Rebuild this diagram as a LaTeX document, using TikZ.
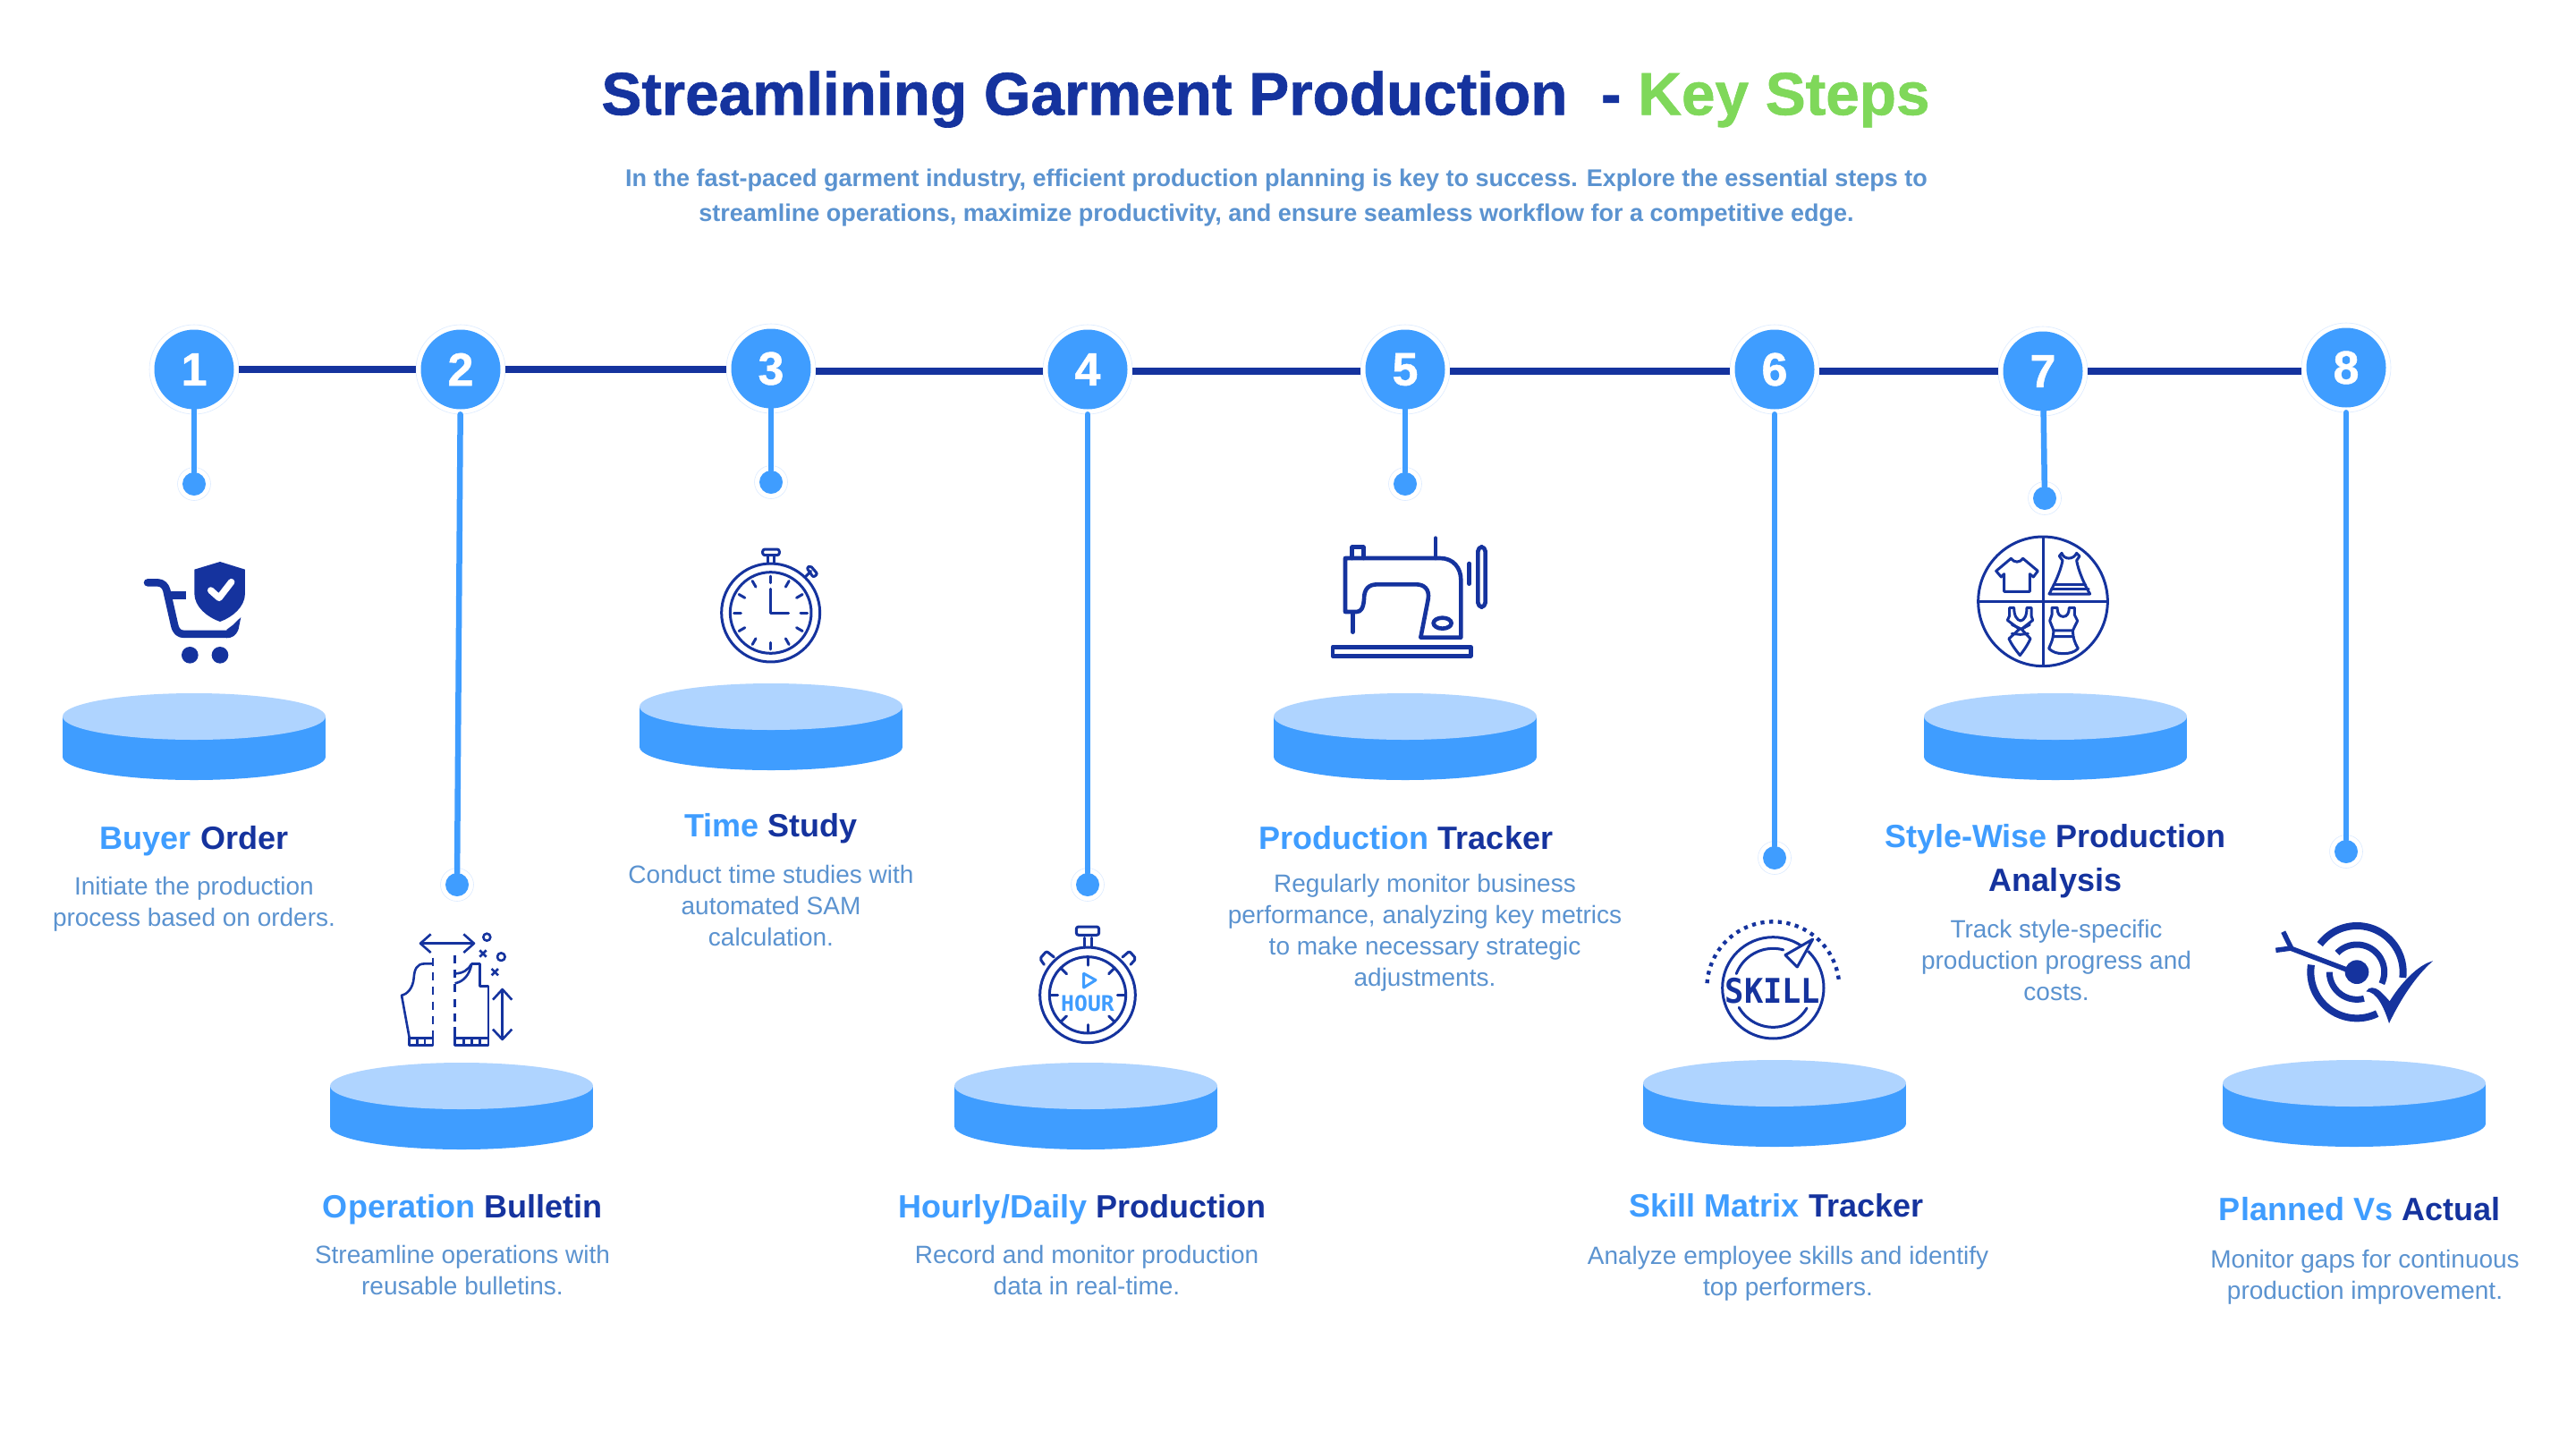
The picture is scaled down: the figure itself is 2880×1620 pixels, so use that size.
\documentclass[tikz,border=0pt]{standalone}
\usepackage{fontspec}
\setmainfont{Liberation Sans}
\newfontfamily\techfont{DejaVu Sans Mono}
\newfontfamily\titlefont[RawFeature={embolden=1}]{Liberation Sans Bold}
\usetikzlibrary{calc}
\definecolor{navy}{HTML}{15339E}
\definecolor{sky}{HTML}{3F9DFF}
\definecolor{pale}{HTML}{AFD4FF}
\definecolor{leaf}{HTML}{7FD85A}
\definecolor{mist}{HTML}{5B93D0}
\definecolor{ringc}{HTML}{DCEBFF}
\newcommand\fs[2]{\fontsize{#1}{#2}\selectfont}
\newcommand\hb[1]{\textcolor{sky}{#1}}
\newcommand\disc[2]{%
  \fill[sky] (#1-147,#2) rectangle (#1+147,#2+45);
  \fill[sky] (#1,#2+45) ellipse [x radius=147,y radius=26];
  \fill[pale] (#1,#2) ellipse [x radius=147,y radius=26];}
\tikzset{
  halo/.style={circle,draw=ringc,line width=.6pt,fill=white,minimum size=100pt,inner sep=0pt},
  num/.style={circle,fill=sky,text=white,minimum size=89pt,inner sep=0pt,font=\titlefont\fs{52}{52}},
  dothalo/.style={circle,draw=ringc,line width=.6pt,fill=white,minimum size=37pt,inner sep=0pt},
  dotn/.style={circle,fill=sky,minimum size=26pt,inner sep=0pt},
  mainline/.style={navy,line width=8pt},
  stem/.style={sky,line width=6.5pt,line cap=round},
  head/.style={align=center,text=navy,font=\bfseries\fs{36}{49}},
  body/.style={align=center,text=mist,font=\fs{28}{35}},
  icon/.style={navy,line width=3pt,line cap=round,line join=round},
}
\begin{document}
\begin{tikzpicture}[x=1pt,y=-1pt]
\useasboundingbox (0,0) rectangle (2880,1620);
\fill[white] (0,0) rectangle (2880,1620);

% title
\node[anchor=center,font=\titlefont\fs{67.5}{72}] (title) at (1415,111)
  {\textcolor{navy}{Streamlining Garment Production\ \ -} \textcolor{leaf}{Key Steps}};
\node[align=center,text=mist,font=\bfseries\fs{27}{39}] (sub) at (1427,221)
  {In the fast-paced garment industry, efficient production planning is key to success. Explore the essential steps to\\
   streamline operations, maximize productivity, and ensure seamless workflow for a competitive edge.};

% halos
\node[halo] (h1) at (217,413) {};
\node[halo] (h2) at (515,413) {};
\node[halo] (h3) at (862,412) {};
\node[halo] (h4) at (1216,413) {};
\node[halo] (h5) at (1571,413) {};
\node[halo] (h6) at (1984,413) {};
\node[halo] (h7) at (2284,415) {};
\node[halo] (h8) at (2623,411) {};
\node[dothalo] (g1) at (217,541) {};
\node[dothalo] (g2) at (511,989) {};
\node[dothalo] (g3) at (862,539) {};
\node[dothalo] (g4) at (1216,989) {};
\node[dothalo] (g5) at (1571,541) {};
\node[dothalo] (g6) at (1984,959) {};
\node[dothalo] (g7) at (2286,557) {};
\node[dothalo] (g8) at (2623,952) {};

\coordinate (ma) at (0,413);
\coordinate (mb) at (0,414.5);
\draw[mainline] (h1.east |- ma)--(h2.west |- ma);
\draw[mainline] (h2.east |- ma)--(h3.west |- ma);
\draw[mainline] (h3.east |- mb)--(h4.west |- mb);
\draw[mainline] (h4.east |- mb)--(h5.west |- mb);
\draw[mainline] (h5.east |- mb)--(h6.west |- mb);
\draw[mainline] (h6.east |- mb)--(h7.west |- mb);
\draw[mainline] (h7.east |- mb)--(h8.west |- mb);

\node[num] (n1) at (h1) {1};
\node[num] (n2) at (h2) {2};
\node[num] (n3) at (h3) {3};
\node[num] (n4) at (h4) {4};
\node[num] (n5) at (h5) {5};
\node[num] (n6) at (h6) {6};
\node[num] (n7) at (h7) {7};
\node[num] (n8) at (h8) {8};
\node[dotn] (d1) at (g1) {};
\node[dotn] (d2) at (g2) {};
\node[dotn] (d3) at (g3) {};
\node[dotn] (d4) at (g4) {};
\node[dotn] (d5) at (g5) {};
\node[dotn] (d6) at (g6) {};
\node[dotn] (d7) at (g7) {};
\node[dotn] (d8) at (g8) {};

\draw[stem] (n1)--(d1);
\draw[stem] (h2)--(d2);
\draw[stem] (n3)--(d3);
\draw[stem] (h4)--(d4);
\draw[stem] (n5)--(d5);
\draw[stem] (h6)--(d6);
\draw[stem] (n7)--(d7);
\draw[stem] (h8)--(d8);

% discs
\disc{217}{801}
\disc{516}{1214}
\disc{862}{790}
\disc{1214}{1214}
\disc{1571}{801}
\disc{1984}{1211}
\disc{2298}{801}
\disc{2632}{1211}

% labels
\node[head] (l1) at (217,940) {\hb{Buyer} Order};
\node[body] (b1) at (217,1011) {Initiate the production\\process based on orders.};
\node[head] (l2) at (517,1352) {\hb{Operation} Bulletin};
\node[body] (b2) at (517,1420) {Streamline operations with\\reusable bulletins.};
\node[head] (l3) at (862,926) {\hb{Time} Study};
\node[body] (b3) at (862,1012) {Conduct time studies with\\automated SAM\\calculation.};
\node[head] (l4) at (1210,1352) {\hb{Hourly/Daily} Production};
\node[body] (b4) at (1215,1420) {Record and monitor production\\data in real-time.};
\node[head] (l5) at (1572,937) {\hb{Production} Tracker};
\node[body] (b5) at (1593,1043) {Regularly monitor business\\performance, analyzing key metrics\\to make necessary strategic\\adjustments.};
\node[head] (l6) at (1986,1348) {\hb{Skill Matrix} Tracker};
\node[body] (b6) at (1999,1424) {Analyze employee skills and identify\\top performers.};
\node[head] (l7) at (2298,963) {\hb{Style-Wise} Production\\Analysis};
\node[body] (b7) at (2299,1073) {Track style-specific\\production progress and\\costs.};
\node[head] (l8) at (2638,1352) {\hb{Planned Vs} Actual};
\node[body] (b8) at (2644,1428) {Monitor gaps for continuous\\production improvement.};

% icon 1: cart and shield
\begin{scope}[shift={(140,600)},x=.3333pt,y=-.3333pt]
  \draw[navy,line width=8.5pt,line cap=round,line join=round]
    (75,154) -- (108,154) .. controls (125,154) and (135,165) .. (139,180)
    -- (165,295) .. controls (170,318) and (180,327) .. (200,327) -- (340,327);
  \draw[navy,line width=8.5pt] (148,197) -- (205,197);
  \fill[navy] (340,312) -- (360,297) -- (388,270) -- (380,310) .. controls (372,332) and (358,340) .. (340,340) -- cycle;
  \fill[navy] (318,84) -- (402,110) -- (402,190) .. controls (402,235) and (360,270) .. (318,285)
     .. controls (275,270) and (232,235) .. (232,190) -- (232,110) -- cycle;
  \draw[white,line width=7.5pt,line cap=round,line join=round] (287,180) -- (315,205) -- (356,152);
  \fill[navy] (217,397) circle [radius=28];
  \fill[navy] (318,397) circle [radius=28];
\end{scope}

% icon 2: pattern
\begin{scope}[shift={(420,1020)},x=.3333pt,y=-.3333pt,icon/.append style={line width=2.6pt,line cap=butt}]
  \draw[icon] (150,104) -- (330,104);
  \draw[icon] (185,73) -- (150,104) -- (185,135);
  \draw[icon] (295,73) -- (330,104) -- (295,135);
  \draw[icon,dash pattern=on 9pt off 7.3pt] (192,152) -- (192,410);
  \draw[icon,dash pattern=on 9pt off 7.3pt] (266,143) -- (266,400);
  \draw[icon] (192,172) -- (165,172) .. controls (135,172) and (130,195) .. (128,220)
     .. controls (125,255) and (105,275) .. (87,278) -- (113,420);
  \draw[icon] (113,422) rectangle (192,446);
  \draw[icon] (192,410) -- (192,446);
  \draw[icon] (140,422) -- (140,446);
  \draw[icon] (165,422) -- (165,446);
  \draw[icon] (266,205) .. controls (292,205) and (312,192) .. (322,172);
  \draw[icon] (266,238) .. controls (295,232) and (315,210) .. (322,172);
  \draw[icon] (322,172) -- (350,172) -- (350,248) -- (378,248) -- (378,422);
  \draw[icon] (266,422) rectangle (378,446);
  \draw[icon] (266,385) -- (266,446);
  \draw[icon] (295,422) -- (295,446);
  \draw[icon] (322,422) -- (322,446);
  \draw[icon] (350,422) -- (350,446);
  \draw[icon] (425,258) -- (425,426);
  \draw[icon] (393,293) -- (425,258) -- (457,293);
  \draw[icon] (393,392) -- (425,426) -- (457,392);
  \draw[icon] (373,83) circle [radius=12];
  \draw[icon] (421,149) circle [radius=13];
  \draw[icon] (349,127) -- (371,149);
  \draw[icon] (371,127) -- (349,149);
  \draw[icon] (389,189) -- (411,211);
  \draw[icon] (411,189) -- (389,211);
\end{scope}

% icon 3: stopwatch
\begin{scope}[shift={(780,600)},x=.3333pt,y=-.3333pt]
  \draw[icon] (245,255) circle [radius=165];
  \draw[icon] (245,255) circle [radius=136];
  \draw[icon,rounded corners=2.5pt] (218,42) rectangle (274,62);
  \draw[icon] (235,62) -- (235,90);
  \draw[icon] (255,62) -- (255,90);
  \draw[icon,rounded corners=2pt] (366,105) -- (378,97) -- (402,125) -- (388,136) -- cycle;
  \draw[icon] (360,136) -- (380,115);
  \foreach \a in {0,30,...,330} \draw[icon] ([shift={(245,255)}]\a:100) -- ([shift={(245,255)}]\a:123);
  \draw[icon] (245,175) -- (245,255) -- (305,255);
\end{scope}

% icon 4: hour stopwatch
\begin{scope}[shift={(1140,1030)},x=.3333pt,y=-.3333pt]
  \draw[icon] (228,247) circle [radius=160];
  \draw[icon] (228,247) circle [radius=128];
  \draw[icon,rounded corners=2.5pt] (190,18) rectangle (266,46);
  \draw[icon] (216,55) -- (216,88);
  \draw[icon] (240,55) -- (240,88);
  \draw[icon,rounded corners=2pt] (82,145) -- (68,125) -- (90,100) -- (115,120);
  \draw[icon,rounded corners=2pt] (345,120) -- (368,100) -- (390,125) -- (372,145);
  \foreach \a in {0,45,...,315} \draw[icon] ([shift={(228,247)}]\a:100) -- ([shift={(228,247)}]\a:126);
  \draw[icon,sky] (215,175) -- (255,197) -- (215,222) -- cycle;
  \node[text=sky,font=\techfont\bfseries\fs{24}{24},xscale=1.03] (hourtxt) at (228,275) {HOUR};
\end{scope}

% icon 5: sewing machine
\begin{scope}[shift={(1480,590)},x=.3333pt,y=-.3333pt,icon/.append style={line width=4.6pt}]
  \draw[icon] (72,102) -- (390,102) .. controls (435,102) and (460,135) .. (460,175) -- (460,368) -- (325,368)
     -- (350,240) .. controls (356,205) and (335,190) .. (310,190) -- (180,190)
     .. controls (150,190) and (135,205) .. (135,240) .. controls (133,268) and (125,282) .. (110,282) -- (72,282) -- cycle;
  \draw[icon] (97,285) -- (97,350);
  \draw[icon] (95,102) -- (95,65) -- (133,65) -- (133,102);
  \draw[icon] (375,35) -- (375,102);
  \draw[icon] (488,120) -- (488,188);
  \draw[icon,rounded corners=5pt] (517,64) rectangle (542,266);
  \draw[icon] (398,320) ellipse [x radius=30,y radius=18];
  \draw[icon] (30,400) rectangle (493,430);
\end{scope}

% icon 6: skill
\begin{scope}[shift={(1900,1020)},x=.3333pt,y=-.3333pt]
  \draw[icon] (247,253) circle [radius=170];
  \draw[white,line width=9pt] (365,110) -- (300,170);
  \draw[icon] plot[domain=75:159,samples=30] ({247+132*cos(\x)},{253-132*sin(\x)});
  \draw[icon] plot[domain=210:329,samples=40] ({247+132*cos(\x)},{253-132*sin(\x)});
  \draw[navy,line width=4.3pt,dash pattern=on 4.3pt off 5.4pt]
     plot[domain=176:4,samples=80] ({247+222*cos(\x)},{253-222*sin(\x)});
  \draw[icon] (380,90) -- (288,143) -- (328,183) -- cycle;
  \node[text=navy,font=\techfont\bfseries\fs{38}{38},xscale=.93] (skilltxt) at (246,262) {SKILL};
\end{scope}

% icon 7: garments
\begin{scope}[shift={(2210,590)},x=.3333pt,y=-.3333pt]
  \draw[icon] (222,247) circle [radius=217];
  \draw[icon,line cap=butt] (222,30) -- (222,464);
  \draw[icon,line cap=butt] (5,247) -- (439,247);
  \draw[icon] (92,155) -- (92,214) -- (178,214) -- (178,155) -- (190,165) -- (205,145) -- (155,103)
     .. controls (145,118) and (125,118) .. (115,103) -- (65,145) -- (82,165) -- cycle;
  \draw[icon] (277,95) -- (285,85) .. controls (292,108) and (325,108) .. (335,85) -- (345,95) -- (335,110)
     .. controls (340,140) and (360,190) .. (380,222) -- (243,222) .. controls (260,190) and (280,150) .. (288,110) -- cycle;
  \draw[icon] (258,190) -- (365,190);
  \draw[icon] (250,205) -- (375,205);
  \draw[icon] (110,268) -- (125,268) .. controls (125,295) and (135,310) .. (147,312) .. controls (160,310) and (168,295) .. (168,268) -- (183,268)
     -- (183,295) -- (188,310) -- (150,340) -- (180,372) .. controls (170,395) and (155,415) .. (145,428)
     .. controls (135,415) and (118,395) .. (108,372) -- (143,340) -- (103,310) -- (110,295) -- cycle;
  \draw[icon] (118,325) -- (150,340) -- (178,325);
  \draw[icon] (118,355) -- (146,358) -- (172,355);
  \draw[icon] (252,268) -- (270,268) .. controls (270,288) and (278,298) .. (290,298) .. controls (302,298) and (310,288) .. (310,268) -- (328,268) -- (328,292) -- (338,312) -- (322,345) -- (258,345) -- (245,312) -- (252,292) -- cycle;
  \draw[icon] (258,345) -- (256,365) -- (324,365) -- (322,345);
  \draw[icon] (256,365) .. controls (252,385) and (245,395) .. (242,405) .. controls (255,418) and (270,422) .. (290,422) .. controls (310,422) and (328,418) .. (340,405) .. controls (335,395) and (328,385) .. (324,365);
\end{scope}

% icon 8: target
\begin{scope}[shift={(2540,1020)},x=.3333pt,y=-.3333pt]
  \draw[navy,line width=8pt] plot[domain=143:-7,samples=50] ({285+155*cos(\x)},{200-155*sin(\x)});
  \draw[navy,line width=8pt] plot[domain=171:296,samples=50] ({285+155*cos(\x)},{200-155*sin(\x)});
  \draw[navy,line width=7pt] plot[domain=136:-25,samples=50] ({285+92*cos(\x)},{200-92*sin(\x)});
  \draw[navy,line width=7pt] plot[domain=180:285,samples=40] ({285+92*cos(\x)},{200-92*sin(\x)});
  \fill[navy] (285,200) circle [radius=40];
  \draw[navy,line width=5.5pt] (62,120) -- (285,205);
  \draw[navy,line width=5.5pt] (38,65) -- (65,120);
  \draw[navy,line width=5.5pt] (13,127) -- (65,120);
  \draw[white,line width=2pt] (310,262) .. controls (325,245) and (345,247) .. (362,260);
  \fill[navy] (316,265) .. controls (325,248) and (345,250) .. (360,262) .. controls (375,275) and (388,290) .. (395,298)
     .. controls (430,240) and (490,175) .. (540,163) .. controls (480,215) and (430,295) .. (393,372)
     .. controls (375,315) and (350,265) .. (316,265) -- cycle;
\end{scope}
\end{tikzpicture}
\end{document}
